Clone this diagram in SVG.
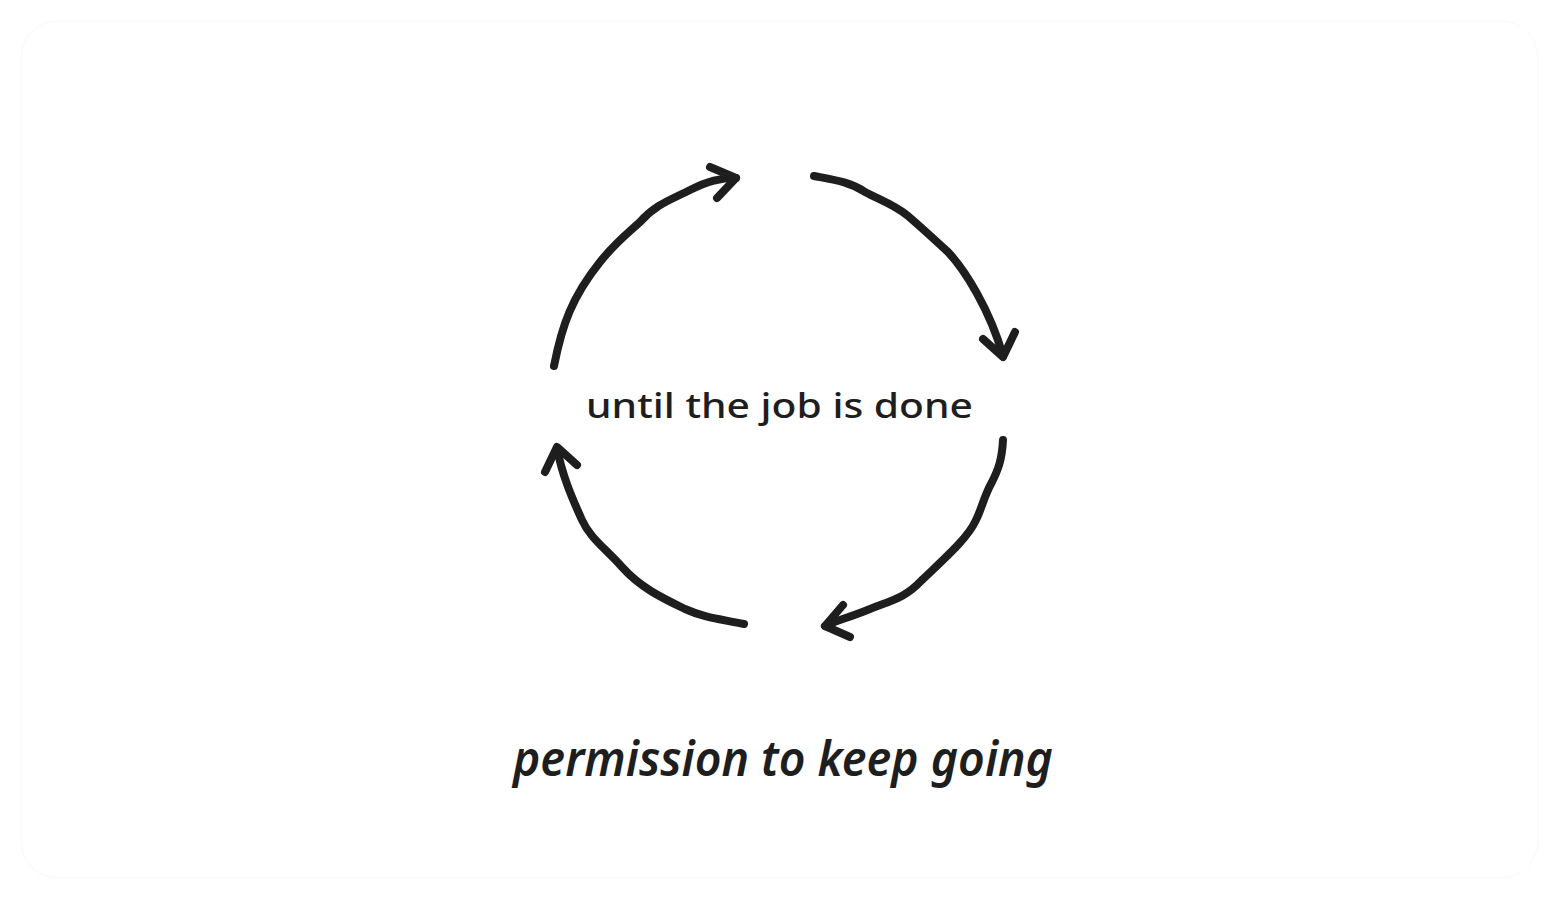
<svg xmlns="http://www.w3.org/2000/svg" width="1560" height="900" viewBox="0 0 1560 900">
  <style>
    .arc { fill: none; stroke: #1e1e1e; stroke-width: 8; stroke-linecap: round; stroke-linejoin: round; }
    .lbl { fill: #1e1e1e; font-family: "Noto Sans", "Liberation Sans", sans-serif; }
  </style>
  <rect x="0" y="0" width="1560" height="900" fill="#ffffff"/>
  <rect x="21" y="21" width="1517" height="857" rx="37" fill="#ffffff" stroke="#fafafa" stroke-width="1"/>
  <g id="connectors">
    <g id="arc-top-left">
      <path class="arc" d="M554,366 C562,325 572,297 600,262 C615,243 628,233 640,222 C655,205 670,200 690,190 C708,181 720,178 736,178"/>
      <path class="arc" d="M710,167 L736,178 L717,198"/>
    </g>
    <g id="arc-top-right">
      <path class="arc" d="M814,176 C835,180 850,182 865,192 C880,200 895,205 908,216 C922,228 935,240 948,252 C965,270 990,310 1003,356"/>
      <path class="arc" d="M983,339 L1003,357 L1015,332"/>
    </g>
    <g id="arc-bottom-right">
      <path class="arc" d="M1003,440 C1002,460 998,470 992,482 C984,496 982,508 976,520 C968,538 945,558 922,580 C905,598 893,600 870,609 C848,618 835,621 825,626"/>
      <path class="arc" d="M843,605 L825,626 L850,637"/>
    </g>
    <g id="arc-bottom-left">
      <path class="arc" d="M744,624 C720,619 705,618 685,609 C660,597 640,587 622,567 C605,548 590,538 582,520 C572,498 562,475 557,448"/>
      <path class="arc" d="M545,472 L557,447 L577,465"/>
    </g>
  </g>
  <g id="center-label">
    <text class="lbl" x="586" y="418" font-size="34" font-weight="500" textLength="387" lengthAdjust="spacingAndGlyphs">until the job is done</text>
  </g>
  <g id="caption">
    <text class="lbl" x="513" y="776" font-size="48" font-style="italic" font-weight="600" textLength="540" lengthAdjust="spacingAndGlyphs">permission to keep going</text>
  </g>
</svg>
